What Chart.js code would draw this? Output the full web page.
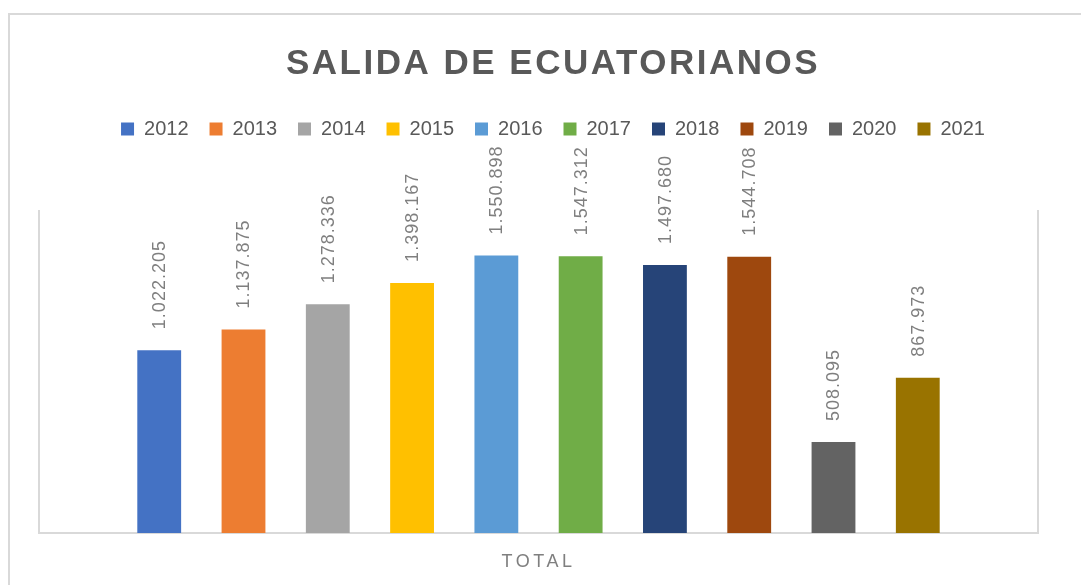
<!DOCTYPE html>
<html>
<head>
<meta charset="utf-8">
<script src="https://cdn.jsdelivr.net/npm/chart.js@4/dist/chart.umd.min.js"></script>
<style>
	html, body { margin: 0; padding: 0; background: #fff; overflow: hidden; }
	#frame { position: absolute; left: 8px; top: 13px; width: 1200px; height: 700px;
		border-left: 2px solid #d9d9d9; border-top: 2px solid #d9d9d9; }
	#wrap { position: absolute; left: 0; top: 0; width: 1106px; height: 585px; }
</style>
</head>
<body>
<div id="frame"></div>
<div id="wrap"><canvas id="myChart" width="1106" height="585"></canvas></div>
<script>
(function(){

	"use strict";

// Chart data
	const categories = ["TOTAL"];
	const years = ["2012", "2013", "2014", "2015", "2016", "2017", "2018", "2019", "2020", "2021"];
	const departures = [1022205, 1137875, 1278336, 1398167, 1550898, 1547312, 1497680, 1544708, 508095, 867973];
	const barColors = ["#4472C4", "#ED7D31", "#A5A5A5", "#FFC000", "#5B9BD5", "#70AD47", "#264478", "#9E480E", "#636363", "#997300"];

	const fontName = "'Liberation Sans', Arial, sans-serif";
	const lineColor = "#d9d9d9";

	function formatNum(v){
		return String(v).replace(/\B(?=(\d{3})+(?!\d))/g, ".");
	}

// One dataset per year, all in the single "TOTAL" category
	var datasets = [];
	for(let i=0; i<years.length; i++){
		datasets.push({
			label: years[i],
			data: [departures[i]],
			backgroundColor: barColors[i],
			borderWidth: 0,
			categoryPercentage: 0.8437,
			barPercentage: 0.52
		});
	}

// Vertical value labels above each bar
	const valueLabels = {
		id: "valueLabels",
		afterDatasetsDraw(chart) {
			const ctx = chart.ctx;
			ctx.save();
			ctx.font = "18px " + fontName;
			ctx.fillStyle = "#7f7f7f";
			ctx.letterSpacing = "1px";
			ctx.textAlign = "left";
			ctx.textBaseline = "middle";
			chart.data.datasets.forEach(function(ds, i){
				const bar = chart.getDatasetMeta(i).data[0];
				ctx.save();
				ctx.translate(bar.x + 1, bar.y - 21);
				ctx.rotate(-Math.PI / 2);
				ctx.fillText(formatNum(ds.data[0]), 0, 0);
				ctx.restore();
			});
			ctx.restore();
		}
	};

// Letter spacing for title and category label
	const spacedText = {
		id: "spacedText",
		beforeDraw(chart) {
			if (chart.$spaced) return;
			chart.$spaced = true;
			const ctx = chart.ctx;
			const tb = chart.titleBlock;
			const origTitle = tb.draw;
			tb.draw = function(){
				ctx.save();
				ctx.letterSpacing = "2.5px";
				origTitle.apply(this, arguments);
				ctx.restore();
			};
			const xs = chart.scales.x;
			const origLabels = xs.drawLabels;
			xs.drawLabels = function(){
				ctx.save();
				ctx.letterSpacing = "3.5px";
				origLabels.apply(this, arguments);
				ctx.restore();
			};
		}
	};

	const config = {
		type: "bar",
		data: { labels: categories, datasets: datasets },
		options: {
			responsive: false,
			animation: false,
			layout: { padding: { left: 0, right: 0, top: 0, bottom: 12 } },
			plugins: {
				title: {
					display: true,
					text: "SALIDA DE ECUATORIANOS",
					color: "#595959",
					font: { family: fontName, size: 35, weight: "bold" },
					padding: { top: 43, bottom: 13 }
				},
				legend: {
					display: true,
					labels: {
						color: "#595959",
						font: { family: fontName, size: 20 },
						boxWidth: 13,
						boxHeight: 13,
						padding: 21
					}
				},
				tooltip: { enabled: false }
			},
			scales: {
				x: {
					grid: { display: false, drawTicks: false },
					border: { display: true, color: lineColor, width: 2 },
					ticks: { color: "#7f7f7f", font: { family: fontName, size: 18 }, padding: 18 },
					afterFit: function(scale){ scale.height = 40; }
				},
				xTop: {
					type: "category",
					position: "top",
					labels: categories,
					grid: { display: false, drawTicks: false },
					border: { display: false },
					ticks: { display: false },
					afterFit: function(scale){ scale.height = 62; }
				},
				y: {
					min: 0,
					max: 1800000,
					grid: { display: false, drawTicks: false },
					border: { display: true, color: lineColor, width: 2 },
					ticks: { display: false },
					afterFit: function(scale){ scale.width = 39; }
				},
				yRight: {
					position: "right",
					min: 0,
					max: 1,
					grid: { display: false, drawTicks: false },
					border: { display: true, color: lineColor, width: 2 },
					ticks: { display: false },
					afterFit: function(scale){ scale.width = 68; }
				}
			}
		},
		plugins: [valueLabels, spacedText]
	};

	var myChart = new Chart(document.getElementById("myChart"), config);

})();
</script>
</body>
</html>
